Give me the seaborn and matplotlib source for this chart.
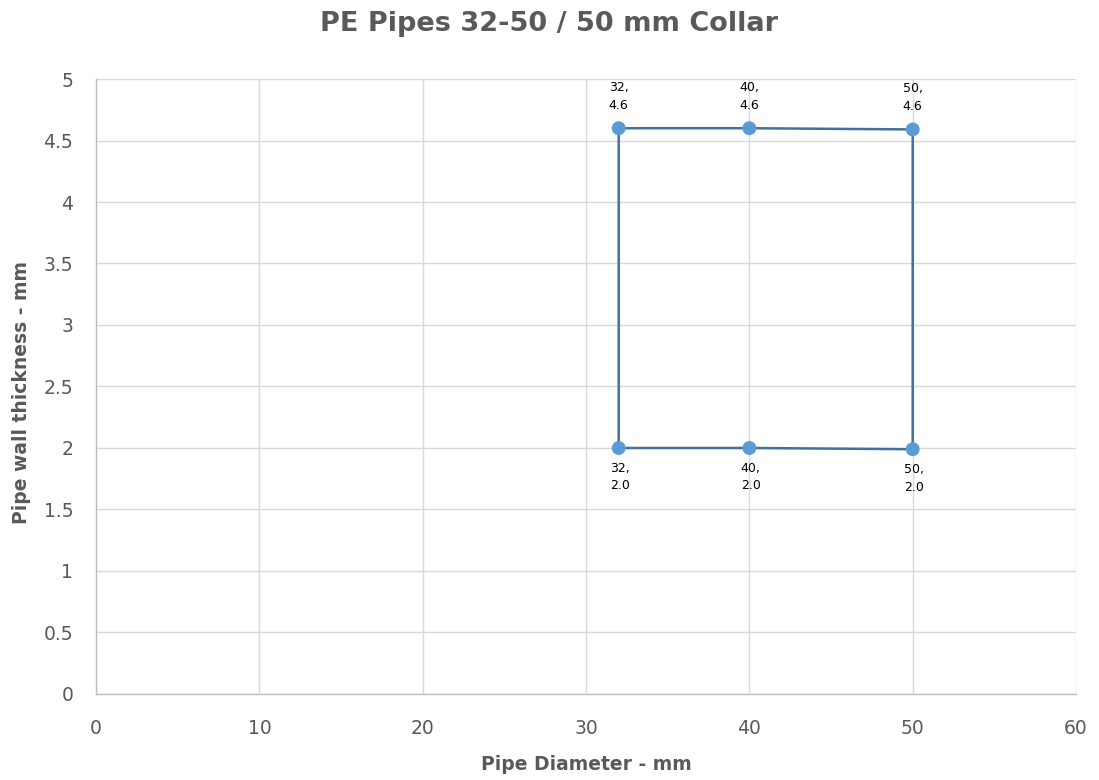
import matplotlib
matplotlib.use("Agg")
import matplotlib.pyplot as plt
import seaborn as sns
import pandas as pd

# Data (path order around the rectangle, closing back to start)
diameter = [32, 40, 50, 50, 40, 32, 32]
thickness = [4.6, 4.6, 4.59, 1.99, 2.0, 2.0, 4.6]

title = "PE Pipes 32-50 / 50 mm Collar"
xlabel = "Pipe Diameter - mm"
ylabel = "Pipe wall thickness - mm"
xticks = [0, 10, 20, 30, 40, 50, 60]
yticks = [0, 0.5, 1, 1.5, 2, 2.5, 3, 3.5, 4, 4.5, 5]

df = pd.DataFrame({"d": diameter, "t": thickness})
pts = df.iloc[:-1]

sns.set_theme(style="white")
plt.rcParams['font.family'] = ['DejaVu Sans']

fig = plt.figure(figsize=(10.99, 7.8), dpi=100)
ax = fig.add_axes([0.0874, 0.1103, 0.8917, 0.7884])

txt = "#595959"
grid = "#d9d9d9"

sns.lineplot(data=df, x="d", y="t", sort=False, estimator=None, ax=ax,
             color="#41719c", linewidth=1.8, zorder=3)
sns.scatterplot(data=pts, x="d", y="t", ax=ax, color="#5b9bd5", s=100,
                edgecolor="none", zorder=4)

for _, r in pts.iterrows():
    label = f"{int(r.d)},\n{r.t:.1f}"
    if r.t > 3:
        ax.annotate(label, (r.d, r.t), xytext=(0, 12), textcoords="offset points",
                    ha="center", va="bottom", fontsize=9, color="#000000", linespacing=1.45)
    else:
        ax.annotate(label, (r.d, r.t), xytext=(1, -10), textcoords="offset points",
                    ha="center", va="top", fontsize=9, color="#000000", linespacing=1.45)

ax.set_xlim(0, 60)
ax.set_ylim(0, 5)
ax.set_xticks(xticks)
ax.set_yticks(yticks)
ax.set_xticklabels([str(v) for v in xticks])
ax.set_yticklabels([f"{v:g}" for v in yticks])
ax.tick_params(axis="both", colors=txt, labelsize=13.5, length=0)
ax.tick_params(axis="x", pad=18)
ax.tick_params(axis="y", pad=16.5)
ax.grid(True, color=grid, linewidth=1)
for s in ["top", "right"]:
    ax.spines[s].set_visible(False)
for s in ["left", "bottom"]:
    ax.spines[s].set_color("#bfbfbf")
    ax.spines[s].set_linewidth(1)

ax.set_xlabel(xlabel, fontsize=13.5, fontweight="bold", color=txt)
ax.set_ylabel(ylabel, fontsize=13.5, fontweight="bold", color=txt)
ax.xaxis.set_label_coords(0.5, (694 - 765) / 615)
ax.xaxis.label.set_va("center")
ax.yaxis.set_label_coords((21 - 96) / 980, 0.49)
ax.yaxis.label.set_va("center")
fig.text(0.5, 1 - 24 / 780, title, ha="center", va="center",
         fontsize=19.5, fontweight="bold", color=txt)

fig.savefig("out.png", dpi=100)
